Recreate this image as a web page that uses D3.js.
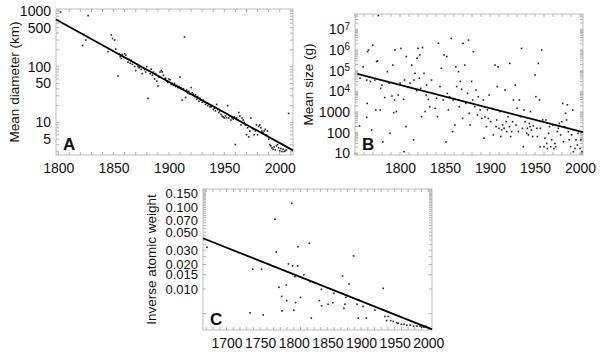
<!DOCTYPE html>
<html><head><meta charset="utf-8">
<script src="https://cdn.jsdelivr.net/npm/d3@7"></script>
<style>body{margin:0;background:#fff}svg{display:block}text{font-family:"Liberation Sans",Arial,sans-serif;fill:#111}</style>
</head><body><svg id="c" width="600" height="352"></svg>
<script>
// Panel A: mean diameter (km)
const yearsA = [1802,1822,1823,1825,1827,1845,1848,1849,1851,1852,1854,1855,1856,1857,1858,1859,1860,1861,1862,1863,1864,1865,1866,1867,1868,1869,1870,1871,1872,1873,1874,1875,1876,1877,1878,1879,1880,1881,1882,1883,1884,1885,1886,1887,1888,1889,1890,1891,1892,1893,1894,1895,1896,1897,1898,1899,1900,1901,1902,1903,1904,1905,1906,1907,1908,1909,1910,1911,1912,1913,1914,1915,1916,1917,1918,1919,1920,1921,1922,1923,1924,1925,1926,1927,1928,1929,1930,1931,1932,1933,1934,1935,1936,1937,1938,1939,1940,1941,1942,1943,1944,1945,1946,1947,1948,1949,1950,1951,1952,1953,1954,1955,1956,1957,1958,1959,1960,1961,1962,1963,1964,1965,1966,1967,1968,1969,1970,1971,1972,1973,1974,1975,1976,1977,1978,1979,1980,1981,1982,1983,1984,1985,1986,1987,1988,1989,1990,1991,1992,1993,1994,1995,1996,1997,1998,1999,2000,2001,2002,2003,2004,2005,2006,2008];
const valuesA = [950,240,380,300,820,185,370,320,300,205,68,170,150,140,165,150,170,160,140,120,135,115,130,110,120,100,85,110,100,95,100,90,75,95,88,80,100,27,85,75,90,70,80,60,75,55,45,65,80,85,80,70,60,62,55,52,60,58,48,50,46,50,44,46,42,44,65,42,25,40,340,28,38,34,36,32,42,34,32,29,31,26,29,24,27,25,23,25,23,21,22,20,21,19,19,20,17,18,16,21,17,15,16,14,13,12.5,12,13,12,20,12,13,11,12,11.5,12.5,4,12,11,15,13,9,12,11,10,9,6,8,5.5,7,12,8,7.5,6,7,9,6,8.5,9,8,7,6.5,7,7.5,6,7,5,4,3.8,3.5,3.3,3.6,3.2,3.8,4,3.5,3.1,3.4,3.0,3.3,3.0,3.1,3.2,14.5];
const fitA = [[1798,700],[2012,3.15]];
const ticksXA = [1800,1850,1900,1950,2000];
const ticksYA = [1000,500,100,50,10,5];

// Panel B: mean size (g)
const yearsB = [1755,1755.6,1759,1763,1764,1765,1763,1763.5,1767,1768.5,1769.6,1772,1773,1774,1778,1776,1775,1778.5,1780,1781,1783,1786,1788,1789,1791,1792,1793,1794,1794.4,1796,1798,1800,1801,1804,1804.5,1805,1806.7,1807,1809,1811,1813,1815,1815.5,1816.7,1818.5,1819,1820,1821.5,1822,1823,1824,1825,1826.7,1828,1829,1829.6,1831.5,1833,1835,1837,1839,1840.7,1841.5,1842.6,1844.4,1846,1848,1849,1851,1852,1852.6,1853.7,1855,1857,1858.5,1859,1861,1862,1863,1865,1866,1867,1868.5,1869.6,1870,1872,1873,1875,1876,1877,1877.8,1879.6,1880.7,1881.5,1883,1884.4,1886,1887,1889,1890.7,1892.6,1893.3,1894.4,1896,1897,1898,1899,1900.7,1902,1903.7,1905.6,1906.7,1907.4,1908,1909,1910,1911,1912,1913,1914,1915.6,1916.7,1918,1918.5,1920,1921.5,1922,1923,1924,1925,1926,1928,1929,1930,1931.5,1932.6,1934,1935,1936,1937,1937.8,1939,1940.7,1941.5,1942.6,1943.7,1944.4,1945,1946,1947.4,1948,1950,1951,1952,1952.6,1953.7,1955,1955.6,1956,1957.4,1958.5,1960,1961,1962,1963,1963.7,1965,1966,1967.4,1968.5,1969.6,1971,1972,1973,1974.8,1976,1977,1978.5,1979.6,1980.7,1981.5,1983,1984,1985,1986,1987,1988,1989.6,1990.7,1992,1992.6,1994.4,1995.5,1997,1998,2000,2001,2002];
const valuesB = [210,43000,155000,35000,830000,1000000,550,2600,30000,135,1700000,35000,1260,275000,1260,46000000,295000,14000,20000,36,5000,89000,25000,93,5900,186000,930,3800,1000000,1050,6600,25000,1200000,4100,12,35000,195,480000,15500,25000,186000,45,35000,74000,10700,400000,1200000,43000,575000,14000,590,1300000,74000,1050,6600,20000,4100,1800,35000,7900,1500,4600,590,2100000,17000,129000,3800,575000,36,480000,7900,1260,5500,3600000,112,3800,235,155000,17000,89000,1800,30000,12600,490,2100000,186000,2600,7900,3000000,870,235,30000,3800,830000,1800,11500,710,5500,1260,490,3800,54,590,195,1260,490,6600,340,1500,78,186000,195,410,17000,155000,162,1050,65,135,235,162,11500,340,112,590,195,224000,65,112,340,3800,20000,235,1500,112,3800,590,1200000,162,21,1260,340,93,162,78,280,195,1050,135,65,210,62000,5500,162,65,224000,3800,21,162,1000000,410,21,54,410,30,17,93,195,21,45,235,17,30,21,112,162,280,78,340,2600,36,195,870,410,2200,112,45,21,78,1260,12,17,45,25,93,17,45,12];
const fitB = [[1752.6,69000],[2003.3,105]];
const ticksXB = [1800,1850,1900,1950,2000];
const ticksYB = [1e7,1e6,1e5,1e4,1000,100,10];
const labelsYB = [["10","7"],["10","6"],["10","5"],["10","4"],["1000",""],["100",""],["10",""]];

// Panel C: inverse atomic weight
const yearsC = [1671,1735,1739,1752,1754.5,1772,1774,1778,1782,1782.5,1789,1789.5,1792,1797,1798,1800,1801.6,1802.6,1805.6,1806,1810,1815,1823,1824,1826,1838,1841,1841.5,1851,1858,1859.6,1872.5,1874.5,1876,1877.5,1882,1889,1894,1896,1897,1903,1908,1920.6,1933,1935.5,1938,1940.5,1944,1948,1953,1955,1960,1964,1968,1973,1978,1983,1987.5,1990,1993.5,1996.5,1998.5,2001.5];
const valuesC = [0.0325,0.0051,0.0175,0.0175,0.0048,0.072,0.0285,0.0105,0.0081,0.0054,0.0112,0.0072,0.0203,0.113,0.0192,0.0055,0.0142,0.0068,0.0192,0.033,0.0079,0.0149,0.0364,0.0123,0.0044,0.0072,0.0099,0.0062,0.0065,0.0068,0.0089,0.0144,0.0058,0.0065,0.0079,0.0115,0.0255,0.0065,0.0044,0.0073,0.0061,0.0044,0.0055,0.0102,0.0046,0.0041,0.0046,0.0041,0.0040,0.00385,0.0038,0.0037,0.0037,0.0036,0.0036,0.0035,0.0035,0.0035,0.0034,0.0034,0.0035,0.0034,0.0033];
const fitC = [[1665,0.042],[2005.5,0.0032]];
const ticksXC = [1700,1750,1800,1850,1900,1950,2000];
const ticksYC = [0.150,0.100,0.070,0.050,0.030,0.020,0.015,0.010];

const svg = d3.select("#c");

function panel(o){
  const x = d3.scaleLinear().domain(o.xd).range([o.l,o.r]);
  const y = d3.scaleLog().domain(o.yd).range([o.b,o.t]);
  const g = svg.append("g");
  g.append("rect").attr("x",o.l).attr("y",o.t).attr("width",o.r-o.l).attr("height",o.b-o.t)
    .attr("fill","none").attr("stroke","#bdbdbd").attr("stroke-width",1);
  const tc = "#b0b0b0";
  const xm = d3.range(Math.ceil(o.xd[0]/10)*10, o.xd[1]+0.01, 10);
  xm.forEach(v=>{
    const px = x(v);
    g.append("line").attr("x1",px).attr("x2",px).attr("y1",o.b).attr("y2",o.b-3).attr("stroke",tc);
    g.append("line").attr("x1",px).attr("x2",px).attr("y1",o.t).attr("y2",o.t+3).attr("stroke",tc);
  });
  y.ticks(o.minorCount||50).forEach(v=>{
    const py = y(v);
    if(py<o.t||py>o.b) return;
    g.append("line").attr("x1",o.l).attr("x2",o.l+3).attr("y1",py).attr("y2",py).attr("stroke",tc);
    g.append("line").attr("x1",o.r).attr("x2",o.r-3).attr("y1",py).attr("y2",py).attr("stroke",tc);
  });
  const xa = g.append("g").attr("transform",`translate(0,${o.b})`)
    .call(d3.axisBottom(x).tickValues(o.xt).tickFormat(d3.format("d")).tickSize(0).tickPadding(8));
  xa.select(".domain").remove();
  xa.selectAll("text").attr("font-size",14).attr("fill","#111");
  const ya = g.append("g").attr("transform",`translate(${o.l},0)`)
    .call(d3.axisLeft(y).tickValues(o.yt).tickSize(0).tickPadding(5).tickFormat(o.yf||(d=>d)));
  ya.select(".domain").remove();
  ya.selectAll("text").attr("font-size",o.yfs||14).attr("fill","#111");
  if(o.ylabels){
    ya.selectAll(".tick text").each(function(d,i){
      const t = d3.select(this); t.text(null);
      const lab = o.ylabels[i];
      t.append("tspan").text(lab[0]);
      if(lab[1]) t.append("tspan").attr("dy","-0.45em").attr("font-size",10).text(lab[1]);
    });
  }
  g.append("g").selectAll("rect").data(o.xs.map((v,i)=>[v,o.ys[i]])).join("rect")
    .attr("x",d=>x(d[0])-0.8).attr("y",d=>y(d[1])-0.8).attr("width",1.6).attr("height",1.6).attr("fill","#222");
  g.append("line").attr("x1",x(o.fit[0][0])).attr("y1",y(o.fit[0][1]))
    .attr("x2",x(o.fit[1][0])).attr("y2",y(o.fit[1][1])).attr("stroke","#000").attr("stroke-width",1.8);
  g.append("text").attr("x",o.l+7).attr("y",o.b-5).attr("font-size",17).attr("font-weight","bold").text(o.letter);
  g.append("text").attr("transform",`translate(${o.tx},${(o.t+o.b)/2}) rotate(-90)`)
    .attr("text-anchor","middle").attr("font-size",13.5).text(o.title);
}

panel({l:56,r:293,t:9,b:155,xd:[1798,2012],yd:[2.6,1080],xs:yearsA,ys:valuesA,fit:fitA,
  xt:ticksXA,yt:ticksYA,letter:"A",title:"Mean diameter (km)",tx:19});
panel({l:355,r:583,t:14,b:155,xd:[1750,2003.3],yd:[8.3,5.5e7],xs:yearsB,ys:valuesB,fit:fitB,
  xt:ticksXB,yt:ticksYB,ylabels:labelsYB,letter:"B",title:"Mean size (g)",tx:313,minorCount:8});
panel({l:203,r:432,t:189,b:330,xd:[1665,2005.5],yd:[0.00314,0.169],xs:yearsC,ys:valuesC,fit:fitC,
  xt:ticksXC,yt:ticksYC,yf:d3.format(".3f"),yfs:13,letter:"C",title:"Inverse atomic weight",tx:156});
</script></body></html>
